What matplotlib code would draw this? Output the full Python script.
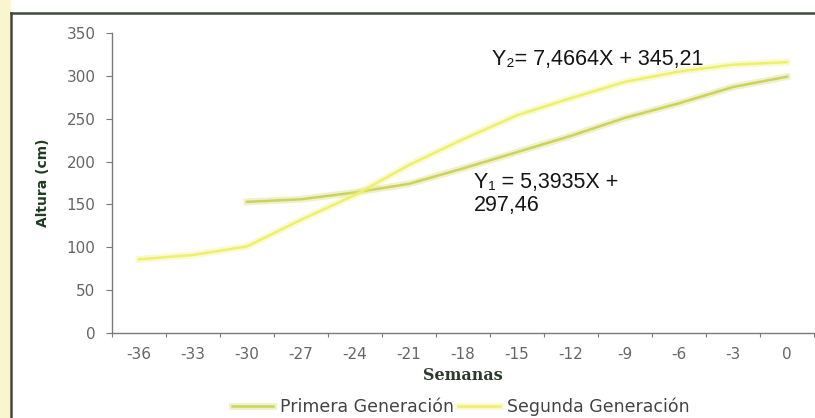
import numpy as np
import matplotlib
matplotlib.use('Agg')
import matplotlib.pyplot as plt
import matplotlib.patheffects as pe
from matplotlib.lines import Line2D
from matplotlib.patches import Rectangle

# Data (altura en cm por semana)
semanas = [-36, -33, -30, -27, -24, -21, -18, -15, -12, -9, -6, -3, 0]
primera = [np.nan, np.nan, 153, 156, 164, 174, 192, 211, 230, 251, 268, 287, 299]
segunda = [86, 91, 101, 132, 161, 196, 226, 254, 274, 293, 305, 313, 316]
yticks = [0, 50, 100, 150, 200, 250, 300, 350]

eq2 = 'Y\u2082= 7,4664X + 345,21'
eq1 = 'Y\u2081 = 5,3935X +\n297,46'

col_primera = '#cdd35a'
col_segunda = '#eef06c'

W, H = 815, 418
fig = plt.figure(figsize=(W / 100, H / 100), dpi=100)
fig.patch.set_facecolor('white')

# pale strip and dark frame lines of the scanned page
fig.patches.append(Rectangle((0, 0), 11 / W, 1, transform=fig.transFigure,
                             facecolor='#f9f5cf', edgecolor='none', zorder=0))
fig.lines.append(Line2D([11 / W, 11 / W], [0, 1 - 13 / H], transform=fig.transFigure,
                        color='#3e4a3c', lw=1.8))
fig.lines.append(Line2D([11 / W, 1], [1 - 13 / H, 1 - 13 / H], transform=fig.transFigure,
                        color='#3e4a3c', lw=1.8))

ax = fig.add_axes([112 / W, 1 - 333 / H, 702 / W, 300 / H])
x = np.arange(len(semanas))

glow1 = [pe.Stroke(linewidth=5, foreground=col_primera, alpha=0.3), pe.Normal()]
glow2 = [pe.Stroke(linewidth=5, foreground=col_segunda, alpha=0.3), pe.Normal()]
ax.plot(x, primera, color=col_primera, lw=1.8, solid_joinstyle='round',
        label='Primera Generación', path_effects=glow1)
ax.plot(x, segunda, color=col_segunda, lw=1.8, solid_joinstyle='round',
        label='Segunda Generación', path_effects=glow2)

ax.set_xlim(-0.5, len(semanas) - 0.5)
ax.set_ylim(0, 350)
ax.set_yticks(yticks)
ax.set_xticks(x)
ax.set_xticklabels([str(s) for s in semanas])
ax.set_xticks(np.arange(-0.5, len(semanas)), minor=True)

for s in ['top', 'right']:
    ax.spines[s].set_visible(False)
for s in ['left', 'bottom']:
    ax.spines[s].set_color('#7a7a7a')
    ax.spines[s].set_linewidth(1)

ax.tick_params(axis='y', length=4, width=0.8, color='#7a7a7a', labelsize=11,
               labelcolor='#666666', pad=8)
ax.tick_params(axis='x', which='major', length=0, labelsize=11,
               labelcolor='#666666', pad=10)
ax.tick_params(axis='x', which='minor', length=3, width=0.8, color='#7a7a7a')

ax.set_xlabel('Semanas', fontsize=11.5, fontweight='bold', color='#2c3a2c',
              fontfamily='DejaVu Serif', labelpad=4)
ax.set_ylabel('Altura (cm)', fontsize=10, fontweight='bold', color='#1f3d22', labelpad=12)

fig.text(492 / W, 1 - 65 / H, eq2, fontsize=15.5,
         family=['Liberation Sans', 'DejaVu Sans'], color='#151515', va='baseline')
fig.text(474 / W, 1 - 172 / H, eq1, fontsize=15.5,
         family=['Liberation Sans', 'DejaVu Sans'], color='#151515',
         va='top', linespacing=1.1)

fig.legend(loc='center', bbox_to_anchor=(0.565, 0.026), ncol=2, frameon=False,
           fontsize=12.5, handlelength=2.4, handletextpad=0.4, columnspacing=0.2,
           labelcolor='#444444')

fig.savefig('out.png', dpi=100)
